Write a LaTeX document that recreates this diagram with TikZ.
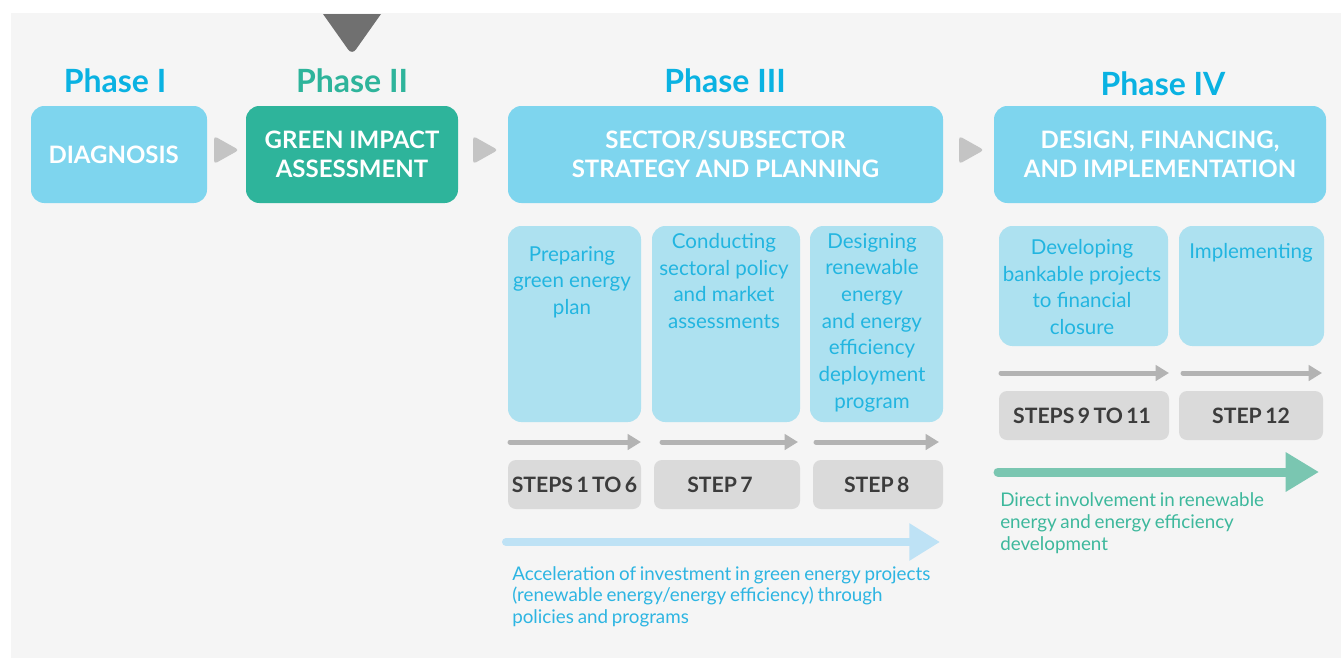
\documentclass[tikz,border=0pt]{standalone}
\usepackage{fontspec}
\setmainfont{Lato}
\usetikzlibrary{arrows.meta}
\definecolor{bgc}{HTML}{F5F5F5}
\definecolor{phaseblue}{HTML}{0AB2E2}
\definecolor{phasegreen}{HTML}{2EB49B}
\definecolor{boxblue}{HTML}{7ED5EE}
\definecolor{subblue}{HTML}{ADE1F0}
\definecolor{subtext}{HTML}{22B5E0}
\definecolor{stepgray}{HTML}{DADADA}
\definecolor{steptext}{HTML}{3C3C3C}
\definecolor{arrowgray}{HTML}{B3B3B3}
\definecolor{chevgray}{HTML}{C4C4C4}
\definecolor{darktri}{HTML}{707070}
\definecolor{bigblue}{HTML}{BEE2F5}
\definecolor{biggreen}{HTML}{7AC6B1}
\definecolor{capblue}{HTML}{2DB5E2}
\definecolor{capgreen}{HTML}{3DB89C}
\newcommand\mystepfont{\fontsize{15.9}{18}\selectfont\bfseries\fontdimen2\font=0.16em\relax}
\newcommand\mycapfont{\fontsize{14.1}{16.3}\selectfont\fontdimen2\font=0.2em\relax}
\begin{document}
\begin{tikzpicture}[x=0.75pt,y=-0.75pt,
  phaselabel/.style={font=\fontsize{24}{28}\selectfont\bfseries, inner sep=0pt, anchor=base},
  bigbox/.style={rounded corners=10pt, inner sep=0pt, minimum height=72.75pt, text=white,
    font=\fontsize{18}{22}\selectfont\bfseries, align=center},
  subbox/.style={fill=subblue, rounded corners=10pt, inner sep=0pt},
  subtxt/.style={text=subtext, font=\fontsize{15.4}{20}\selectfont, align=center, inner sep=0pt, anchor=north},
  stepbox/.style={fill=stepgray, rounded corners=6pt, inner sep=0pt, minimum height=36.75pt,
    text=steptext, font={\mystepfont}},
  grayarrow/.style={draw=arrowgray, line width=3.75pt, line cap=round,
    -{Triangle[length=10pt,width=11.5pt]}},
  chev/.style={fill=chevgray, rounded corners=2.5pt},
  caption/.style={font={\mycapfont}, align=left, inner sep=0pt, anchor=north west}
]
\useasboundingbox (0,0) rectangle (1341,658);
\fill[bgc] (11,13) rectangle (1341,658);

% top marker
\fill[darktri] (323,14) -- (381,14) [rounded corners=5pt] -- (352,55) [sharp corners] -- cycle;

% phase labels
\node[phaselabel, text=phaseblue] (p1) at (115,92) {Phase I};
\node[phaselabel, text=phasegreen] (p2) at (352,92) {Phase II};
\node[phaselabel, text=phaseblue] (p3) at (725,92) {Phase III};
\node[phaselabel, text=phaseblue] (p4) at (1163,95) {Phase IV};

% phase boxes
\node[bigbox, fill=boxblue, minimum width=132pt] (diag) at (119,154.5) {DIAGNOSIS\kern8pt};
\node[bigbox, fill=phasegreen, minimum width=159pt] (gia) at (352,154.5) {GREEN IMPACT\\ASSESSMENT};
\node[bigbox, fill=boxblue, minimum width=326.25pt] (ssp) at (725.5,154.5) {SECTOR/SUBSECTOR\\STRATEGY AND PLANNING};
\node[bigbox, fill=boxblue, minimum width=249pt] (dfi) at (1160,154.5) {DESIGN, FINANCING,\\AND IMPLEMENTATION};

% chevrons between phase boxes
\fill[chev] (214,136) -- (239,150) -- (214,164) -- cycle;
\fill[chev] (473,136) -- (498,150) -- (473,164) -- cycle;
\fill[chev] (959,136) -- (984,150) -- (959,164) -- cycle;

% sub boxes
\node[subbox, minimum width=99.75pt, minimum height=147pt] (prep) at (574.5,324) {};
\node[subbox, minimum width=111pt, minimum height=147pt] (cond) at (726,324) {};
\node[subbox, minimum width=99.75pt, minimum height=147pt] (desg) at (876.5,324) {};
\node[subbox, minimum width=126.75pt, minimum height=90pt] (devp) at (1083.5,286) {};
\node[subbox, minimum width=108.75pt, minimum height=90pt] (impl) at (1251.5,286) {};

\node[subtxt] (preptxt) at (572,246) {Preparing\\green energy\\plan};
\node[subtxt] (condtxt) at (724,233) {Conducting\\sectoral policy\\and market\\assessments};
\node[subtxt] (desgtxt) at (872,233) {Designing\\renewable\\energy\\and energy\\efficiency\\deployment\\program};
\node[subtxt] (devptxt) at (1082,239) {Developing\\bankable projects\\to financial\\closure};
\node[subtxt] (impltxt) at (1251,243) {Implementing};

% small gray arrows
\coordinate (a1s) at (510,442); \coordinate (a1e) at (641,442);
\coordinate (a2s) at (662,442); \coordinate (a2e) at (798,442);
\coordinate (a3s) at (816,442); \coordinate (a3e) at (939,442);
\coordinate (a4s) at (1001,373); \coordinate (a4e) at (1169,373);
\coordinate (a5s) at (1183,373); \coordinate (a5e) at (1322,373);
\draw[grayarrow] (a1s) -- (a1e);
\draw[grayarrow] (a2s) -- (a2e);
\draw[grayarrow] (a3s) -- (a3e);
\draw[grayarrow] (a4s) -- (a4e);
\draw[grayarrow] (a5s) -- (a5e);

% step boxes
\node[stepbox, minimum width=99.75pt] (s16) at (574.5,484.5) {STEPS 1 TO 6};
\node[stepbox, minimum width=109.5pt] (s7) at (727,484.5) {STEP 7\kern10.5pt};
\node[stepbox, minimum width=97.5pt] (s8) at (878,484.5) {STEP 8\kern2pt};
\node[stepbox, minimum width=127.5pt] (s911) at (1084,415.5) {STEPS 9 TO 11\kern3pt};
\node[stepbox, minimum width=108pt] (s12) at (1251,415.5) {STEP 12};

% big arrows
\coordinate (bbs) at (506,542); \coordinate (bbe) at (940,542);
\draw[draw=bigblue, line width=6pt, line cap=round, -{Triangle[length=23pt,width=26.5pt]}] (bbs) -- (bbe);
\coordinate (bgs) at (998,472); \coordinate (bge) at (1319,472);
\draw[draw=biggreen, line width=6.75pt, line cap=round, -{Triangle[length=25pt,width=28pt]}] (bgs) -- (bge);

% captions
\node[caption, text=capblue] (acc) at (512,566) {Acceleration of investment in green energy projects\\(renewable energy/energy efficiency) through\\policies and programs};
\node[caption, text=capgreen] (dir) at (1000,492.5) {Direct involvement in renewable\\energy and energy efficiency\\development};
\end{tikzpicture}
\end{document}
